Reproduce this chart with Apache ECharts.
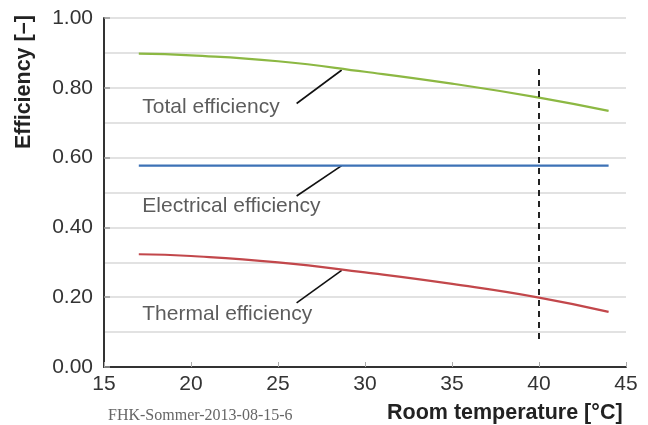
<!DOCTYPE html>
<html><head><meta charset="utf-8">
<script src="https://cdn.jsdelivr.net/npm/echarts@6/dist/echarts.min.js"></script>
<style>html,body{margin:0;padding:0;background:#fff}#c{width:648px;height:425px}</style>
</head><body><div id="c"></div>
<script>
const temps = [17, 20, 25, 30, 35, 40, 44];
const totalEff = [0.898, 0.893, 0.876, 0.846, 0.812, 0.772, 0.734];
const electricalEff = [0.577, 0.577, 0.577, 0.577, 0.577, 0.577, 0.577];
const thermalEff = [0.323, 0.318, 0.300, 0.271, 0.238, 0.199, 0.158];
const xTicks = [15, 20, 25, 30, 35, 40, 45];
const yTicks = [0, 0.2, 0.4, 0.6, 0.8, 1.0];
const refTemp = 40;
const refLine = [0.08, 0.86];
const leaderTotal = [[28.66, 0.851], [26.07, 0.755]];
const leaderElec = [[28.66, 0.577], [26.07, 0.49]];
const leaderTherm = [[28.66, 0.277], [26.07, 0.184]];
const labelTexts = ['Total efficiency', 'Electrical efficiency', 'Thermal efficiency'];
const labelPos = [[17.2, 0.743], [17.2, 0.46], [17.2, 0.151]];

const font = 'Liberation Sans, Arial, sans-serif';
const pair = (xs, ys) => xs.map((x, i) => [x, ys[i]]);
const leader = d => ({type:'line', data:d, symbol:'none', silent:true,
  lineStyle:{color:'#111', width:1.6}, z:3});

const chart = echarts.init(document.getElementById('c'), null, {renderer:'canvas'});
chart.setOption({
  animation:false,
  backgroundColor:'#fff',
  grid:{left:104, right:22, top:18, bottom:58},
  xAxis:{type:'value', min:15, max:45, interval:5,
    axisLine:{show:true, onZero:false, lineStyle:{color:'#333', width:2}},
    axisTick:{show:true, inside:true, length:5, lineStyle:{color:'#aaa', width:1}},
    axisLabel:{color:'#333', fontSize:21, fontFamily:font, margin:7,
      formatter:v => xTicks.includes(v) ? String(v) : ''},
    splitLine:{show:false}},
  yAxis:{type:'value', min:0, max:1, interval:0.2,
    axisLine:{show:true, lineStyle:{color:'#333', width:2}},
    axisTick:{show:true, inside:true, length:6, lineStyle:{color:'#999', width:1.5}},
    axisLabel:{color:'#333', fontSize:21, fontFamily:font, margin:11,
      formatter:v => yTicks.some(t => Math.abs(t - v) < 1e-6) ? v.toFixed(2) : ''},
    splitLine:{show:true, lineStyle:{color:'#d9d9d9', width:1.5}},
    minorTick:{show:false, splitNumber:2},
    minorSplitLine:{show:true, lineStyle:{color:'#d9d9d9', width:1.5}}},
  series:[
    {type:'line', name:'Total', data:pair(temps, totalEff), smooth:true, symbol:'none',
      lineStyle:{color:'#8cb843', width:2.2}, z:4},
    {type:'line', name:'Electrical', data:pair(temps, electricalEff), symbol:'none',
      lineStyle:{color:'#3d72b6', width:2.2}, z:4},
    {type:'line', name:'Thermal', data:pair(temps, thermalEff), smooth:true, symbol:'none',
      lineStyle:{color:'#c2474b', width:2.2}, z:4},
    {type:'line', data:[[refTemp, refLine[0]], [refTemp, refLine[1]]], symbol:'none', silent:true,
      lineStyle:{color:'#222', width:2, type:[6,5]}, z:5},
    leader(leaderTotal), leader(leaderElec), leader(leaderTherm),
    {type:'scatter', symbolSize:0, silent:true,
      data:labelPos.map((p, i) => ({value:p, label:{formatter:labelTexts[i]}})),
      label:{show:true, position:'right', distance:0, color:'#333', fontSize:21, fontFamily:font}}
  ],
  graphic:[
    {type:'text', left:387, top:402, style:{text:'Room temperature [°C]', font:'bold 21.5px '+font, fill:'#222'}},
    {type:'text', x:13, y:149, rotation:Math.PI/2, style:{text:'Efficiency [–]', font:'bold 21.5px '+font, fill:'#222'}},
    {type:'text', left:108, top:408, style:{text:'FHK-Sommer-2013-08-15-6', font:'16px Liberation Serif, Times New Roman, serif', fill:'#666'}}
  ]
});
</script></body></html>
